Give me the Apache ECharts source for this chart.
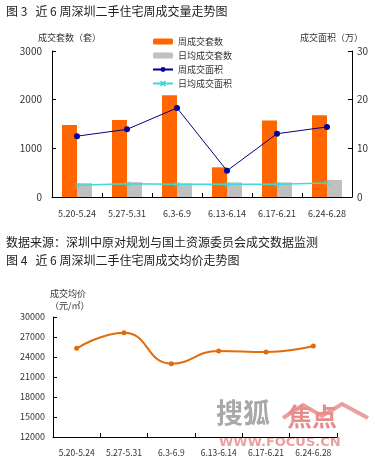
<!DOCTYPE html>
<html><head><meta charset="utf-8">
<script src="https://cdn.jsdelivr.net/npm/echarts@6/dist/echarts.min.js"></script>
<style>html,body{margin:0;padding:0;background:#fff}#c{width:375px;height:467px}</style>
</head><body><div id="c"></div>
<script>
const categories = ['5.20-5.24','5.27-5.31','6.3-6.9','6.13-6.14','6.17-6.21','6.24-6.28'];
const weeklyUnits = [1480, 1580, 2090, 610, 1570, 1680];
const dailyAvgUnits = [285, 305, 280, 300, 300, 350];
const weeklyArea = [12.5, 13.9, 18.3, 5.4, 13.0, 14.4];
const dailyAvgArea = [2.4, 2.7, 2.6, 2.6, 2.6, 2.9];
const avgPrice = [25300, 27650, 23000, 24900, 24750, 25650];
const leftTicks = [0, 1000, 2000, 3000];
const rightTicks = [0, 10, 20, 30];
const priceTicks = [12000, 15000, 18000, 21000, 24000, 27000, 30000];

const FONT = '"Noto Sans CJK SC", "DejaVu Sans", sans-serif';
const chart = echarts.init(document.getElementById('c'), null, {renderer: 'canvas'});
const axisLine = {show: true, lineStyle: {color: '#000', width: 1}};
const tick = {show: true, inside: true, length: 4, lineStyle: {color: '#000'}};
const lbl = (sz) => ({color: '#333', fontSize: sz, fontFamily: FONT, formatter: (v) => String(v)});

chart.setOption({
  animation: false,
  textStyle: {fontFamily: FONT},
  grid: [
    {left: 52, top: 51, width: 300, height: 146},
    {left: 53, top: 317, width: 284, height: 120}
  ],
  legend: {
    orient: 'vertical', left: 147, top: 32, itemWidth: 20, itemHeight: 6, itemGap: 5,
    textStyle: {fontSize: 9, color: '#333', fontFamily: FONT},
    data: ['周成交套数', '日均成交套数', '周成交面积', '日均成交面积']
  },
  xAxis: [
    {type: 'category', gridIndex: 0, data: categories, axisLine, axisTick: tick,
     axisLabel: Object.assign(lbl(9), {margin: 12, interval: 0})},
    {type: 'category', gridIndex: 1, data: categories, axisLine, axisTick: tick,
     axisLabel: Object.assign(lbl(8.5), {margin: 12, interval: 0})}
  ],
  yAxis: [
    {type: 'value', gridIndex: 0, min: leftTicks[0], max: leftTicks[leftTicks.length - 1], interval: 1000,
     axisLine, axisTick: tick, splitLine: {show: false}, axisLabel: Object.assign(lbl(10), {margin: 10})},
    {type: 'value', gridIndex: 0, position: 'right', min: rightTicks[0], max: rightTicks[rightTicks.length - 1], interval: 10,
     axisLine, axisTick: tick, splitLine: {show: false}, axisLabel: Object.assign(lbl(10), {margin: 5})},
    {type: 'value', gridIndex: 1, min: priceTicks[0], max: priceTicks[priceTicks.length - 1], interval: 3000,
     axisLine, axisTick: tick, splitLine: {show: false}, axisLabel: Object.assign(lbl(9), {margin: 8})}
  ],
  series: [
    {name: '周成交套数', type: 'bar', xAxisIndex: 0, yAxisIndex: 0, data: weeklyUnits,
     barWidth: 15, barGap: '0%', itemStyle: {color: '#FF6600'}},
    {name: '日均成交套数', type: 'bar', xAxisIndex: 0, yAxisIndex: 0, data: dailyAvgUnits,
     barWidth: 15, barGap: '0%', itemStyle: {color: '#C0C0C0'}},
    {name: '周成交面积', type: 'line', xAxisIndex: 0, yAxisIndex: 1, data: weeklyArea,
     symbol: 'circle', symbolSize: 6, lineStyle: {color: '#000080', width: 1},
     itemStyle: {color: '#0000A0'}},
    {name: '日均成交面积', type: 'line', xAxisIndex: 0, yAxisIndex: 1, data: dailyAvgArea,
     symbol: 'path://M0,0 L10,10 M10,0 L0,10', symbolSize: 5,
     lineStyle: {color: '#40D8D8', width: 1.5},
     itemStyle: {color: '#40D8D8', borderColor: '#40D8D8', borderWidth: 1}},
    {name: '成交均价', type: 'line', xAxisIndex: 1, yAxisIndex: 2, data: avgPrice,
     smooth: 0.5, symbol: 'circle', symbolSize: 5,
     lineStyle: {color: '#E26B0A', width: 2}, itemStyle: {color: '#E26B0A'}}
  ],
  graphic: [
    {type: 'text', left: 6, top: 5, style: {text: '图 3   近 6 周深圳二手住宅周成交量走势图', fontSize: 12, fill: '#222', fontFamily: FONT}},
    {type: 'text', left: 38, top: 33, style: {text: '成交套数（套）', fontSize: 9, fill: '#333', fontFamily: FONT}},
    {type: 'text', left: 300, top: 33, style: {text: '成交面积（万）', fontSize: 9, fill: '#333', fontFamily: FONT}},
    {type: 'text', left: 6, top: 236, style: {text: '数据来源：深圳中原对规划与国土资源委员会成交数据监测', fontSize: 12, fill: '#222', fontFamily: FONT}},
    {type: 'text', left: 6, top: 254, style: {text: '图 4   近 6 周深圳二手住宅周成交均价走势图', fontSize: 12, fill: '#222', fontFamily: FONT}},
    {type: 'text', left: 50, top: 289, style: {text: '成交均价', fontSize: 9, fill: '#333', fontFamily: FONT}},
    {type: 'text', left: 50, top: 301, style: {text: '（元/㎡）', fontSize: 9, fill: '#333', fontFamily: FONT}},
    {type: 'polyline', shape: {points: [[283,418],[303,405],[322,416],[342,404],[368,418]]}, style: {stroke: '#EBA0A0', lineWidth: 4, fill: null}},
    {type: 'text', left: 216, top: 399, style: {text: '搜狐', fontSize: 27, fontWeight: 'bold', fill: '#A8A8A8', fontFamily: FONT}},
    {type: 'text', left: 287, top: 404, style: {text: '焦点', fontSize: 25, fontWeight: 'bold', fill: '#E88C8C', fontFamily: FONT}},
    {type: 'text', left: 219, top: 436, style: {text: 'WWW.FOCUS.CN', fontSize: 13, fontWeight: 'bold', fill: '#EBA0A0', fontFamily: '"DejaVu Sans", sans-serif'}}
  ]
});
</script></body></html>
